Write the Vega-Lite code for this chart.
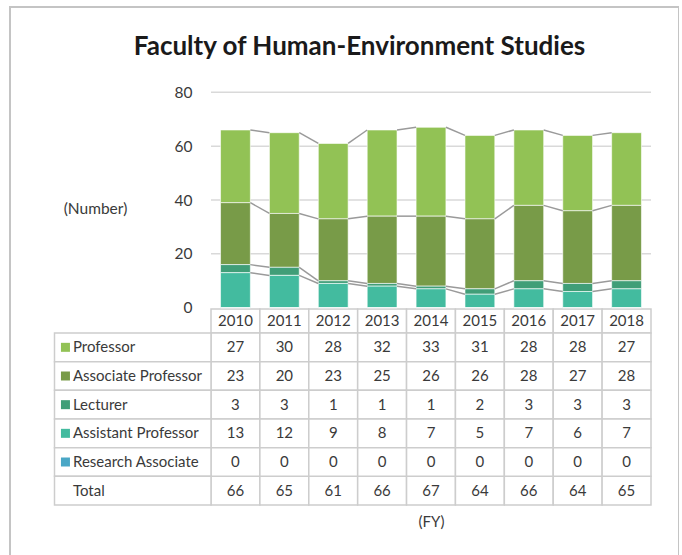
{
  "$schema": "https://vega.github.io/schema/vega-lite/v6.json",
  "width": 669,
  "height": 560,
  "autosize": "none",
  "padding": {"left": 10, "top": 7, "right": 0, "bottom": 0},
  "title": {"text": "Faculty of Human-Environment Studies", "fontSize": 26, "fontWeight": "bold", "color": "#1a1a1a", "anchor": "middle", "frame": "group", "offset": -74, "baseline": "alphabetic", "dx": 15},
  "config": {"font": "Lato", "view": {"stroke": "#c4c4c4", "strokeWidth": 2}},
  "data": {"values": [
    {"year": "2010", "role": "Professor", "n": 27}, {"year": "2011", "role": "Professor", "n": 30}, {"year": "2012", "role": "Professor", "n": 28},
    {"year": "2013", "role": "Professor", "n": 32}, {"year": "2014", "role": "Professor", "n": 33}, {"year": "2015", "role": "Professor", "n": 31},
    {"year": "2016", "role": "Professor", "n": 28}, {"year": "2017", "role": "Professor", "n": 28}, {"year": "2018", "role": "Professor", "n": 27},
    {"year": "2010", "role": "Associate Professor", "n": 23}, {"year": "2011", "role": "Associate Professor", "n": 20}, {"year": "2012", "role": "Associate Professor", "n": 23},
    {"year": "2013", "role": "Associate Professor", "n": 25}, {"year": "2014", "role": "Associate Professor", "n": 26}, {"year": "2015", "role": "Associate Professor", "n": 26},
    {"year": "2016", "role": "Associate Professor", "n": 28}, {"year": "2017", "role": "Associate Professor", "n": 27}, {"year": "2018", "role": "Associate Professor", "n": 28},
    {"year": "2010", "role": "Lecturer", "n": 3}, {"year": "2011", "role": "Lecturer", "n": 3}, {"year": "2012", "role": "Lecturer", "n": 1},
    {"year": "2013", "role": "Lecturer", "n": 1}, {"year": "2014", "role": "Lecturer", "n": 1}, {"year": "2015", "role": "Lecturer", "n": 2},
    {"year": "2016", "role": "Lecturer", "n": 3}, {"year": "2017", "role": "Lecturer", "n": 3}, {"year": "2018", "role": "Lecturer", "n": 3},
    {"year": "2010", "role": "Assistant Professor", "n": 13}, {"year": "2011", "role": "Assistant Professor", "n": 12}, {"year": "2012", "role": "Assistant Professor", "n": 9},
    {"year": "2013", "role": "Assistant Professor", "n": 8}, {"year": "2014", "role": "Assistant Professor", "n": 7}, {"year": "2015", "role": "Assistant Professor", "n": 5},
    {"year": "2016", "role": "Assistant Professor", "n": 7}, {"year": "2017", "role": "Assistant Professor", "n": 6}, {"year": "2018", "role": "Assistant Professor", "n": 7},
    {"year": "2010", "role": "Research Associate", "n": 0}, {"year": "2011", "role": "Research Associate", "n": 0}, {"year": "2012", "role": "Research Associate", "n": 0},
    {"year": "2013", "role": "Research Associate", "n": 0}, {"year": "2014", "role": "Research Associate", "n": 0}, {"year": "2015", "role": "Research Associate", "n": 0},
    {"year": "2016", "role": "Research Associate", "n": 0}, {"year": "2017", "role": "Research Associate", "n": 0}, {"year": "2018", "role": "Research Associate", "n": 0}
  ]},
  "transform": [
    {"calculate": "indexof(['Research Associate','Assistant Professor','Lecturer','Associate Professor','Professor'], datum.role)", "as": "o"}
  ],
  "layer": [
    {
      "data": {"values": [{"g": 20}, {"g": 40}, {"g": 60}, {"g": 80}]},
      "mark": {"type": "rule", "color": "#d9d9d9", "strokeWidth": 1.5},
      "encoding": {
        "y": {"field": "g", "type": "quantitative", "scale": {"domain": [0, 80], "range": [300.7, 85.3], "nice": false}, "axis": null},
        "x": {"datum": "2010", "type": "nominal", "bandPosition": 0, "scale": {"type": "band", "domain": ["2010","2011","2012","2013","2014","2015","2016","2017","2018"], "range": [201, 641], "paddingInner": 0, "paddingOuter": 0}, "axis": null},
        "x2": {"datum": "2018", "bandPosition": 1}
      }
    },
    {
      "transform": [{"aggregate": [{"op": "sum", "field": "n", "as": "total"}], "groupby": ["year"]}],
      "mark": {"type": "rect", "fill": "white", "stroke": "#cdcdcd", "strokeWidth": 1.5},
      "encoding": {
        "x": {"field": "year", "type": "nominal", "scale": {"type": "band", "domain": ["2010","2011","2012","2013","2014","2015","2016","2017","2018"], "range": [201, 641], "paddingInner": 0, "paddingOuter": 0}, "axis": null},
        "y": {"datum": "hdr", "type": "nominal", "scale": {"type": "band", "domain": ["hdr"], "range": [302, 326], "paddingInner": 0, "paddingOuter": 0}, "axis": null}
      }
    },
    {
      "transform": [{"aggregate": [{"op": "sum", "field": "n", "as": "total"}], "groupby": ["year"]}],
      "mark": {"type": "rect", "fill": "white", "stroke": "#cdcdcd", "strokeWidth": 1.5},
      "encoding": {
        "x": {"field": "year", "type": "nominal", "scale": {"type": "band", "domain": ["2010","2011","2012","2013","2014","2015","2016","2017","2018"], "range": [201, 641], "paddingInner": 0, "paddingOuter": 0}, "axis": null},
        "y": {"datum": "Total", "type": "nominal", "scale": {"type": "band", "domain": ["Professor","Associate Professor","Lecturer","Assistant Professor","Research Associate","Total"], "range": [326, 498], "paddingInner": 0, "paddingOuter": 0}, "axis": null}
      }
    },
    {
      "mark": {"type": "rect", "fill": "white", "stroke": "#cdcdcd", "strokeWidth": 1.5},
      "encoding": {
        "x": {"field": "year", "type": "nominal", "scale": {"type": "band", "domain": ["2010","2011","2012","2013","2014","2015","2016","2017","2018"], "range": [201, 641], "paddingInner": 0, "paddingOuter": 0}, "axis": null},
        "y": {"field": "role", "type": "nominal", "scale": {"type": "band", "domain": ["Professor","Associate Professor","Lecturer","Assistant Professor","Research Associate","Total"], "range": [326, 498], "paddingInner": 0, "paddingOuter": 0}, "axis": null}
      }
    },
    {
      "data": {"values": [{"role": "Professor"}, {"role": "Associate Professor"}, {"role": "Lecturer"}, {"role": "Assistant Professor"}, {"role": "Research Associate"}, {"role": "Total"}]},
      "mark": {"type": "rect", "fill": "white", "stroke": "#cdcdcd", "strokeWidth": 1.5},
      "encoding": {
        "x": {"datum": 0, "type": "quantitative", "scale": {"domain": [0, 1], "range": [44.5, 201], "nice": false}, "axis": null},
        "x2": {"datum": 1},
        "y": {"field": "role", "type": "nominal", "scale": {"type": "band", "domain": ["Professor","Associate Professor","Lecturer","Assistant Professor","Research Associate","Total"], "range": [326, 498], "paddingInner": 0, "paddingOuter": 0}, "axis": null}
      }
    },
    {
      "transform": [
        {"stack": "n", "groupby": ["year"], "sort": [{"field": "o", "order": "ascending"}], "as": ["s0", "s1"]}
      ],
      "mark": {"type": "bar", "width": {"band": 0.61}, "stroke": "white", "strokeWidth": 1, "strokeOpacity": 0.6},
      "encoding": {
        "x": {"field": "year", "type": "nominal", "scale": {"type": "band", "domain": ["2010","2011","2012","2013","2014","2015","2016","2017","2018"], "range": [201, 641], "paddingInner": 0, "paddingOuter": 0},
              "axis": {"orient": "bottom", "labels": false, "ticks": false, "domain": false, "grid": false, "title": "(FY)", "titleY": -46, "titleBaseline": "middle", "titleFontSize": 15, "titleFontWeight": "normal", "titleColor": "#3a3a3a"}},
        "y": {"field": "s0", "type": "quantitative", "scale": {"domain": [0, 80], "range": [300.7, 85.3], "nice": false},
              "axis": {"orient": "left", "offset": -201, "values": [0, 20, 40, 60, 80], "ticks": false, "domain": false, "grid": false, "labelPadding": 19, "labelFontSize": 15.5, "labelColor": "#3a3a3a",
                       "title": "(Number)", "titleAngle": 0, "titleX": -116, "titleY": 201, "titleAlign": "center", "titleBaseline": "middle", "titleFontSize": 15.5, "titleFontWeight": "normal", "titleColor": "#3a3a3a"}},
        "y2": {"field": "s1"},
        "color": {"field": "role", "type": "nominal", "legend": null,
                  "scale": {"domain": ["Professor","Associate Professor","Lecturer","Assistant Professor","Research Associate"], "range": ["#92C255", "#789B48", "#409E78", "#43BB9F", "#4AA7C6"]}}
      }
    },
    {
      "transform": [
        {"stack": "n", "groupby": ["year"], "sort": [{"field": "o", "order": "ascending"}], "as": ["s0", "s1"]},
        {"window": [{"op": "lead", "field": "s1", "as": "ns1"}, {"op": "lead", "field": "year", "as": "nyear"}], "groupby": ["role"], "sort": [{"field": "year", "order": "ascending"}]},
        {"filter": "datum.nyear != null && datum.role != 'Research Associate'"}
      ],
      "mark": {"type": "rule", "color": "#9a9a9a", "strokeWidth": 1.5},
      "encoding": {
        "x": {"field": "year", "type": "nominal", "bandPosition": 0.805, "scale": {"type": "band", "domain": ["2010","2011","2012","2013","2014","2015","2016","2017","2018"], "range": [201, 641], "paddingInner": 0, "paddingOuter": 0}, "axis": null},
        "x2": {"field": "nyear", "bandPosition": 0.195},
        "y": {"field": "s1", "type": "quantitative", "scale": {"domain": [0, 80], "range": [300.7, 85.3], "nice": false}, "axis": null},
        "y2": {"field": "ns1"}
      }
    },
    {
      "transform": [{"aggregate": [{"op": "sum", "field": "n", "as": "total"}], "groupby": ["year"]}],
      "mark": {"type": "text", "fontSize": 15, "color": "#3a3a3a", "baseline": "middle", "align": "center"},
      "encoding": {
        "x": {"field": "year", "type": "nominal", "scale": {"type": "band", "domain": ["2010","2011","2012","2013","2014","2015","2016","2017","2018"], "range": [201, 641], "paddingInner": 0, "paddingOuter": 0}, "axis": null},
        "y": {"datum": "hdr", "type": "nominal", "scale": {"type": "band", "domain": ["hdr"], "range": [302, 326], "paddingInner": 0, "paddingOuter": 0}, "axis": null},
        "text": {"field": "year", "type": "nominal"}
      }
    },
    {
      "transform": [{"aggregate": [{"op": "sum", "field": "n", "as": "total"}], "groupby": ["year"]}],
      "mark": {"type": "text", "fontSize": 15, "color": "#3a3a3a", "baseline": "middle", "align": "center"},
      "encoding": {
        "x": {"field": "year", "type": "nominal", "scale": {"type": "band", "domain": ["2010","2011","2012","2013","2014","2015","2016","2017","2018"], "range": [201, 641], "paddingInner": 0, "paddingOuter": 0}, "axis": null},
        "y": {"datum": "Total", "type": "nominal", "scale": {"type": "band", "domain": ["Professor","Associate Professor","Lecturer","Assistant Professor","Research Associate","Total"], "range": [326, 498], "paddingInner": 0, "paddingOuter": 0}, "axis": null},
        "text": {"field": "total", "type": "quantitative"}
      }
    },
    {
      "mark": {"type": "text", "fontSize": 15, "color": "#3a3a3a", "baseline": "middle", "align": "center"},
      "encoding": {
        "x": {"field": "year", "type": "nominal", "scale": {"type": "band", "domain": ["2010","2011","2012","2013","2014","2015","2016","2017","2018"], "range": [201, 641], "paddingInner": 0, "paddingOuter": 0}, "axis": null},
        "y": {"field": "role", "type": "nominal", "scale": {"type": "band", "domain": ["Professor","Associate Professor","Lecturer","Assistant Professor","Research Associate","Total"], "range": [326, 498], "paddingInner": 0, "paddingOuter": 0}, "axis": null},
        "text": {"field": "n", "type": "quantitative"}
      }
    },
    {
      "data": {"values": [{"role": "Professor"}, {"role": "Associate Professor"}, {"role": "Lecturer"}, {"role": "Assistant Professor"}, {"role": "Research Associate"}, {"role": "Total"}]},
      "mark": {"type": "text", "fontSize": 15, "color": "#3a3a3a", "baseline": "middle", "align": "left"},
      "encoding": {
        "x": {"datum": 0.118, "type": "quantitative", "scale": {"domain": [0, 1], "range": [44.5, 201], "nice": false}, "axis": null},
        "y": {"field": "role", "type": "nominal", "scale": {"type": "band", "domain": ["Professor","Associate Professor","Lecturer","Assistant Professor","Research Associate","Total"], "range": [326, 498], "paddingInner": 0, "paddingOuter": 0}, "axis": null},
        "text": {"field": "role", "type": "nominal"}
      }
    },
    {
      "data": {"values": [{"role": "Professor"}, {"role": "Associate Professor"}, {"role": "Lecturer"}, {"role": "Assistant Professor"}, {"role": "Research Associate"}]},
      "mark": {"type": "square", "size": 81, "filled": true, "opacity": 1},
      "encoding": {
        "x": {"datum": 0.07, "type": "quantitative", "scale": {"domain": [0, 1], "range": [44.5, 201], "nice": false}, "axis": null},
        "y": {"field": "role", "type": "nominal", "scale": {"type": "band", "domain": ["Professor","Associate Professor","Lecturer","Assistant Professor","Research Associate","Total"], "range": [326, 498], "paddingInner": 0, "paddingOuter": 0}, "axis": null},
        "color": {"field": "role", "type": "nominal", "legend": null,
                  "scale": {"domain": ["Professor","Associate Professor","Lecturer","Assistant Professor","Research Associate"], "range": ["#92C255", "#789B48", "#409E78", "#43BB9F", "#4AA7C6"]}}
      }
    }
  ],
  "resolve": {"scale": {"x": "independent", "y": "independent"}}
}
